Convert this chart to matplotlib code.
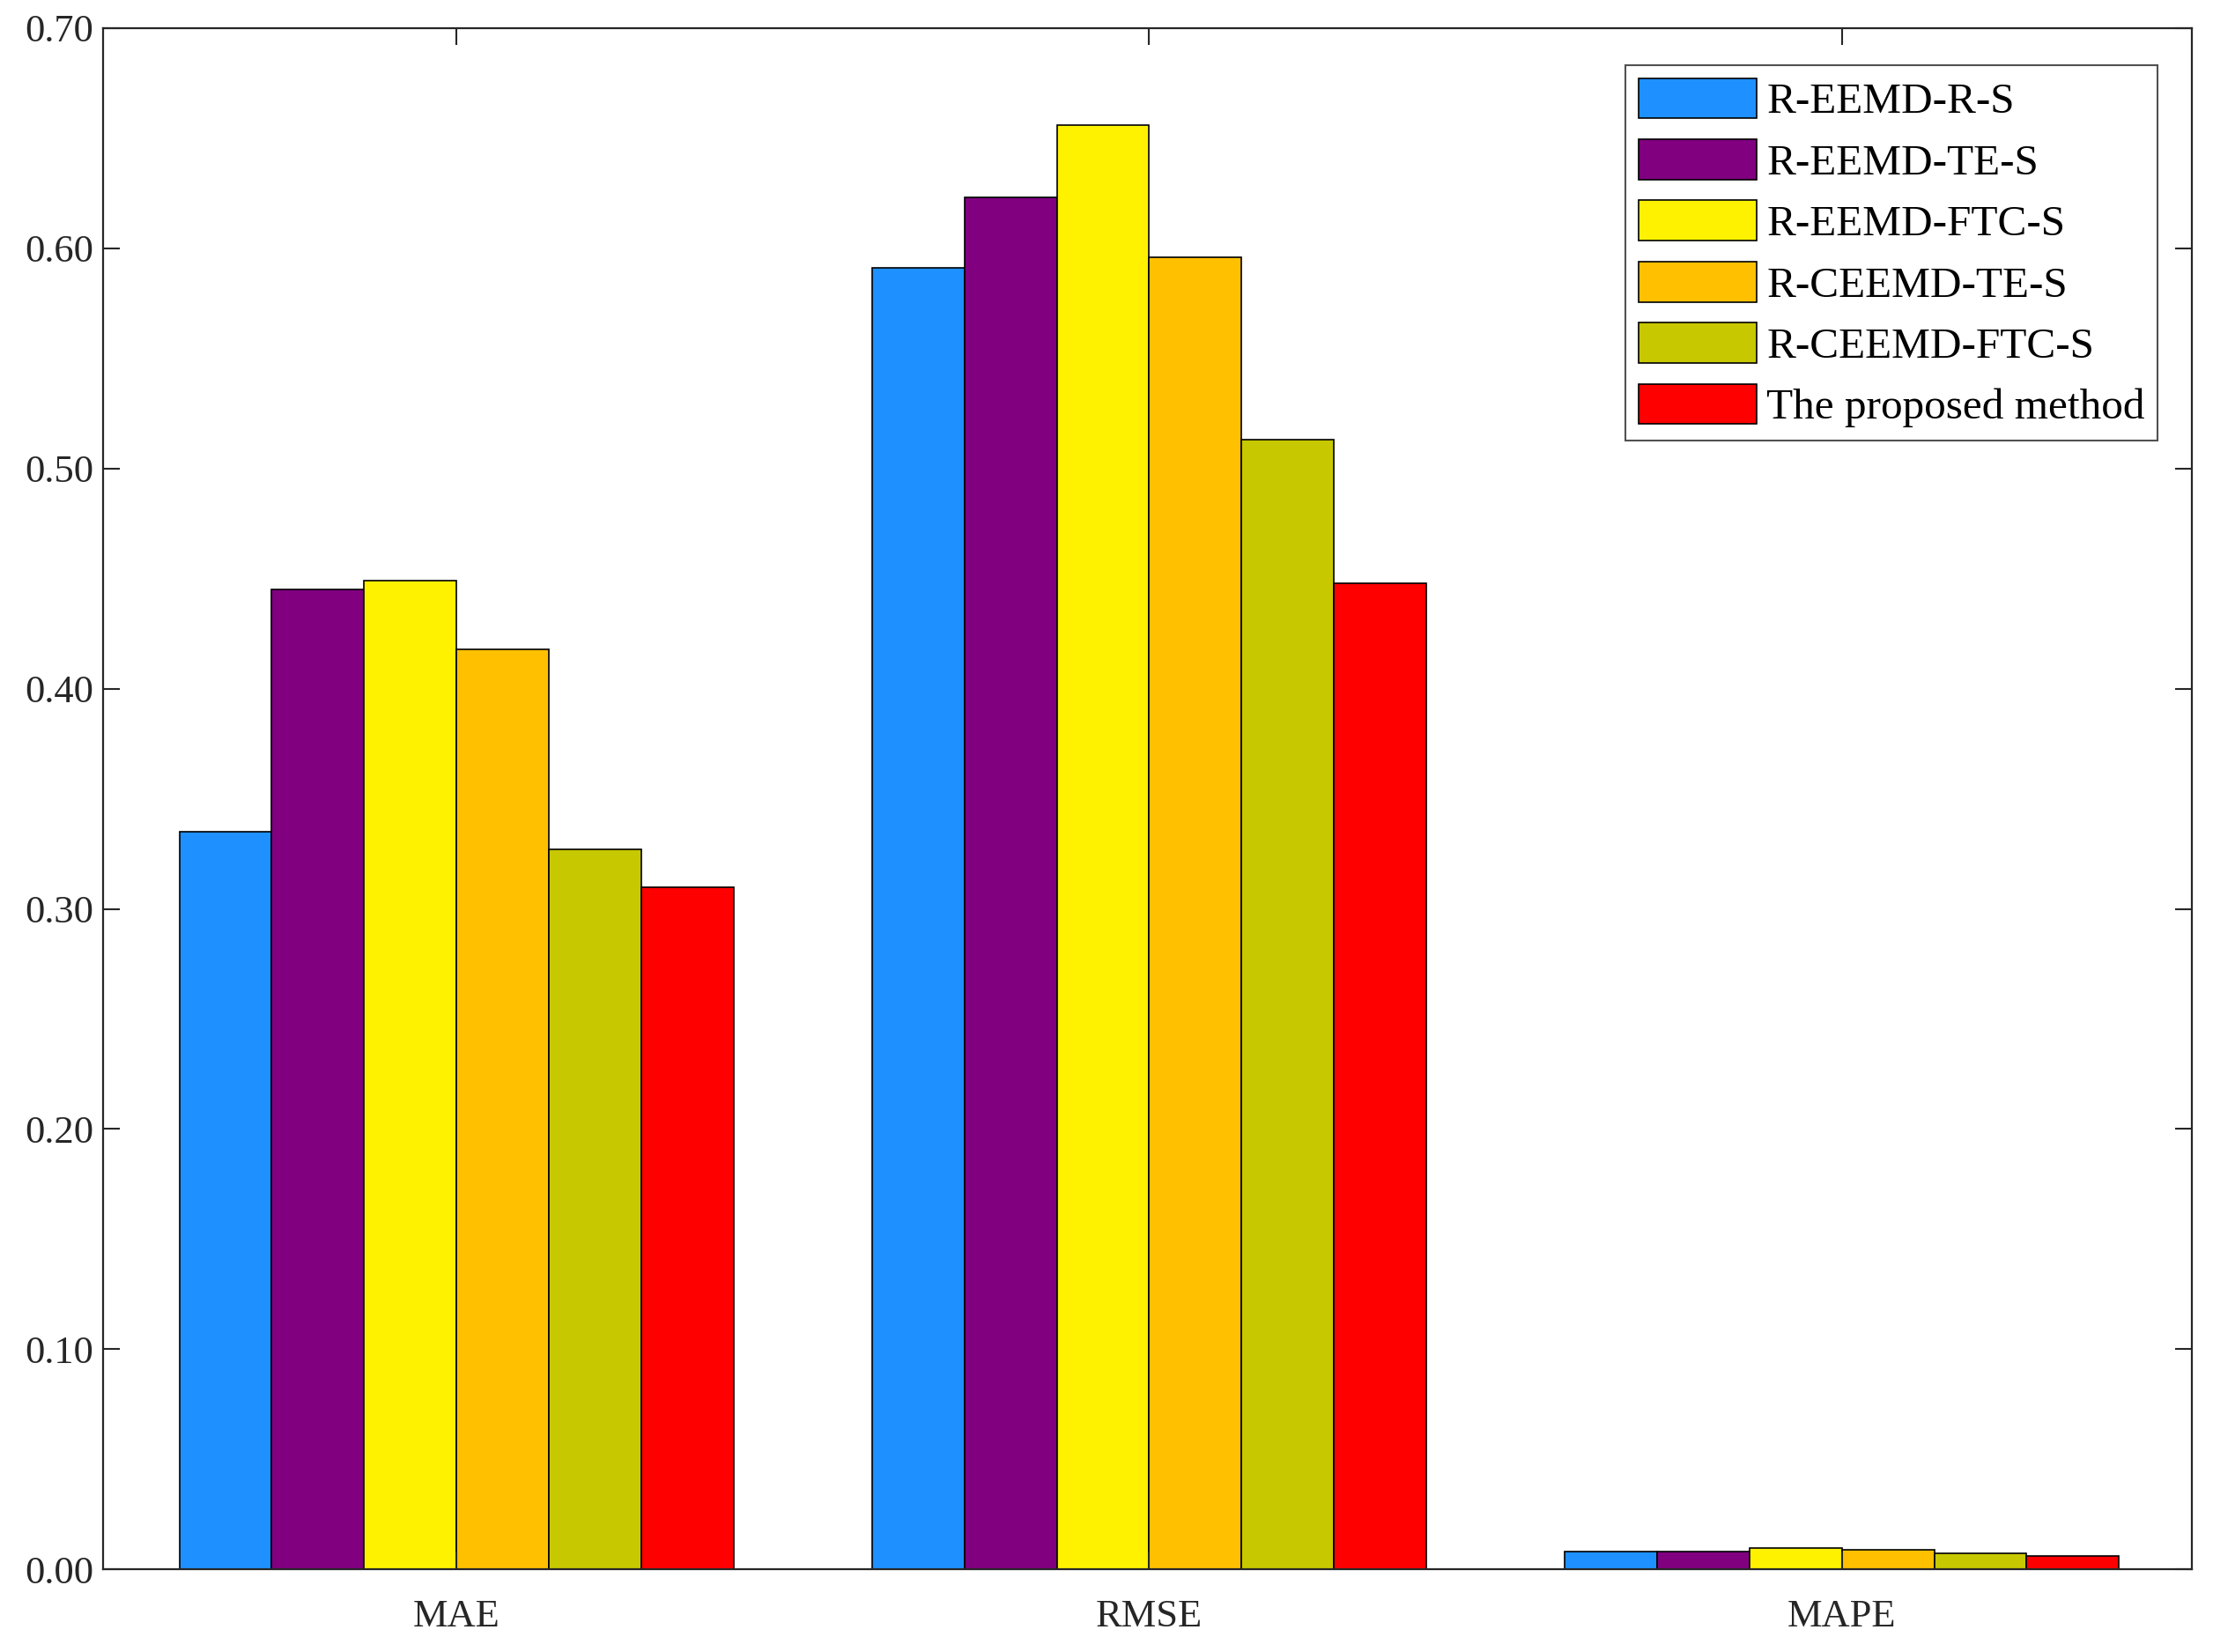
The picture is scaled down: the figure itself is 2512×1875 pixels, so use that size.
import matplotlib
matplotlib.use("Agg")
import matplotlib.pyplot as plt
import numpy as np
from matplotlib.ticker import FormatStrFormatter

plt.rcParams['font.family'] = ['Liberation Serif', 'DejaVu Serif']

categories = ["MAE", "RMSE", "MAPE"]
methods = ["R-EEMD-R-S", "R-EEMD-TE-S", "R-EEMD-FTC-S", "R-CEEMD-TE-S",
           "R-CEEMD-FTC-S", "The proposed method"]
r_eemd_r_s = [0.335, 0.591, 0.0080]
r_eemd_te_s = [0.445, 0.623, 0.0083]
r_eemd_ftc_s = [0.449, 0.656, 0.0099]
r_ceemd_te_s = [0.418, 0.596, 0.0089]
r_ceemd_ftc_s = [0.327, 0.513, 0.0072]
proposed = [0.310, 0.448, 0.0063]
series = [r_eemd_r_s, r_eemd_te_s, r_eemd_ftc_s, r_ceemd_te_s, r_ceemd_ftc_s, proposed]
colors = ["#1E90FF", "#800080", "#FFF200", "#FFC000", "#C8C800", "#FF0000"]
yticks = [0.0, 0.1, 0.2, 0.3, 0.4, 0.5, 0.6, 0.7]

fig = plt.figure(figsize=(25.12, 18.75), dpi=100)
ax = fig.add_axes([0.0466, 0.050, 0.9438, 0.933])

x = np.arange(1, len(categories) + 1)
n = len(series)
w = 0.8 / n
for i, (vals, c, lab) in enumerate(zip(series, colors, methods)):
    ax.bar(x - 0.4 + w * (i + 0.5), vals, width=w, color=c, edgecolor='black',
           linewidth=1.2, label=lab)

ax.set_xlim(0.49, 3.505)
ax.set_ylim(0, 0.7)
ax.set_xticks(x)
ax.set_xticklabels(categories)
ax.set_yticks(yticks)
ax.yaxis.set_major_formatter(FormatStrFormatter('%.2f'))
ax.tick_params(axis='both', direction='in', length=14, width=1.5,
               labelsize=32, top=True, right=True, colors='#262626',
               labelcolor='#262626')
ax.tick_params(axis='x', pad=24)
ax.tick_params(axis='y', pad=8)
for s in ax.spines.values():
    s.set_linewidth(1.6)
    s.set_color('#262626')

leg = ax.legend(loc='upper right', fontsize=35.5, frameon=True, fancybox=False,
                edgecolor='#262626', handlelength=2.73, handleheight=1.05,
                labelspacing=0.4, handletextpad=0.22, borderpad=0.3,
                bbox_to_anchor=(0.9838, 0.976), borderaxespad=0.0)
leg.get_frame().set_linewidth(1.5)

fig.savefig("out.png", dpi=100, facecolor='white')
